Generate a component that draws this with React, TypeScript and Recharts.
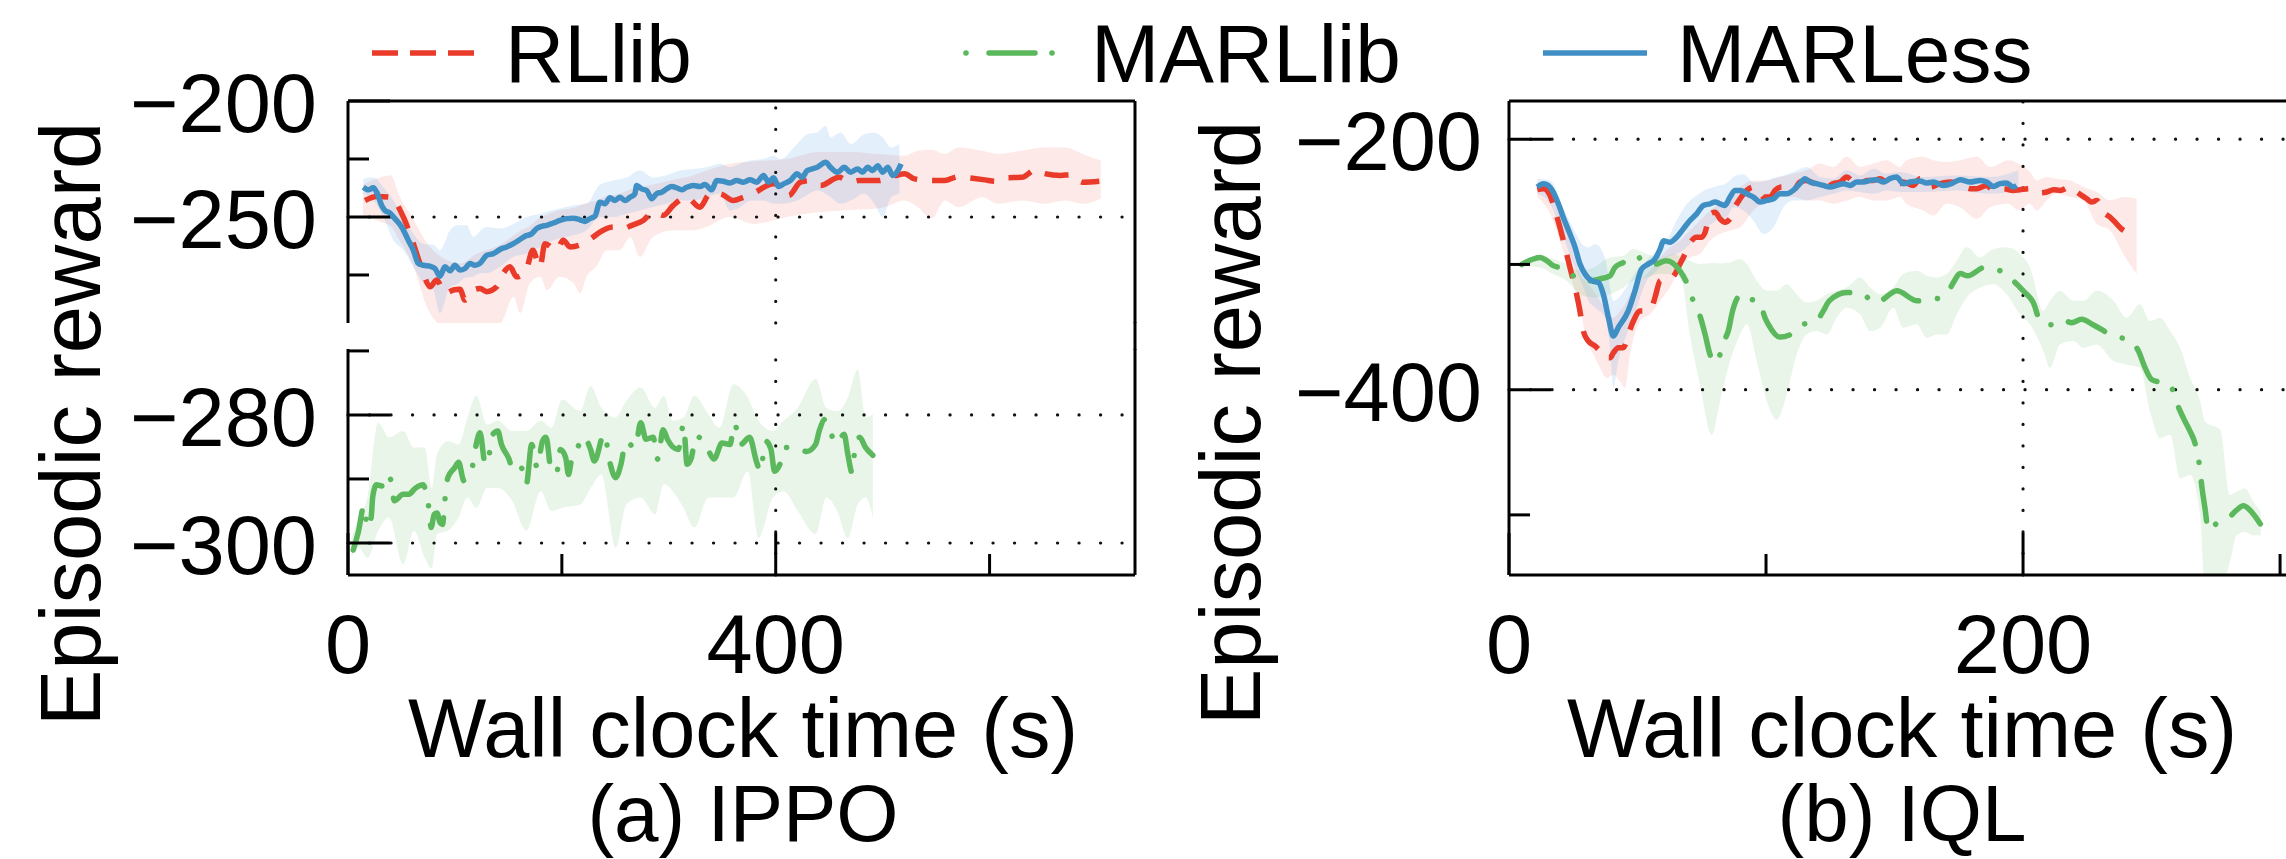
import React from "react";
import { ComposedChart, Line, Area, XAxis, YAxis, ReferenceLine } from "recharts";

const FONT = '"Liberation Sans", Arial, Helvetica, sans-serif';
const RED = "#EA3A2A";
const GREEN = "#5CB85C";
const BLUE = "#3F8FC5";
const BAND_RED = "#F04A3A";
const BAND_GREEN = "#5CB85C";
const BAND_BLUE = "#5AA9F0";

// ---------- (a) IPPO : [time, mean] and [time, low, high] ----------
const ippoRllib: number[][] = [
  [15.9, -242.9], [26.8, -241.2], [40.8, -241.5], [45.5, -244.3], [51.7, -250.0], [58.0, -257.2],
  [64.2, -265.8], [70.4, -274.3], [76.7, -280.1], [82.9, -277.2], [90.7, -282.9], [98.5, -281.5],
  [104.7, -281.2], [109.4, -285.8], [117.2, -281.5], [123.4, -280.8], [129.7, -282.2], [139.0, -280.1],
  [145.2, -274.3], [151.5, -271.5], [157.7, -275.8], [166.6, -272.9], [172.8, -264.3], [179.5, -271.5],
  [184.2, -261.5], [195.1, -264.3], [201.3, -260.0], [207.6, -262.9], [220.0, -261.5], [229.4, -258.6],
  [235.6, -256.5], [248.1, -254.3], [257.4, -255.0], [265.3, -253.6], [276.1, -251.5], [285.5, -247.9],
  [294.8, -249.3], [304.2, -245.0], [316.7, -241.5], [329.1, -245.8], [338.5, -240.0], [347.8, -240.0],
  [360.3, -242.9], [369.6, -241.5], [379.0, -239.8], [398.0, -235.7], [407.4, -237.9], [412.2, -240.7],
  [423.1, -235.0], [432.5, -234.3], [442.0, -236.4], [459.2, -232.9], [470.2, -235.0], [478.1, -234.3],
  [496.9, -234.3], [504.7, -232.9], [512.6, -232.1], [520.4, -231.4], [529.9, -233.6], [542.4, -234.3],
  [558.1, -234.3], [570.6, -232.6], [580.1, -233.1], [595.8, -234.0], [605.2, -234.6], [614.7, -233.1],
  [630.3, -232.9], [642.9, -229.7], [650.8, -231.2], [666.5, -232.1], [675.8, -231.7], [686.9, -235.0],
  [702.6, -234.6],
];
const ippoRllibBand: number[][] = [
  [14, -249, -236], [30, -252, -233], [40, -254, -232], [48, -260, -241], [60, -270, -250], [75, -290, -262],
  [90, -297, -268], [105, -297, -270], [120, -297, -266], [142, -296, -262], [155, -284.4, -258],
  [161, -291.5, -256], [170, -278.6, -254], [180, -275.8, -250], [186, -281.5, -249], [198, -275.8, -247],
  [211, -278.6, -246], [217, -282.9, -245], [223, -275.8, -244], [232, -271.5, -243], [242, -264.3, -241],
  [254, -264.3, -240], [264, -258.6, -238], [273, -267.2, -237], [285, -258.6, -236], [304, -255.7, -234],
  [323, -255.7, -232], [335, -254.3, -230], [357, -250, -227], [380, -253, -226], [410, -250, -225],
  [440, -248, -222], [470, -247, -222], [500, -246, -223], [520, -242.9, -223.6], [533, -245.8, -221.4],
  [546, -250.7, -221], [558, -242.9, -222.8], [571, -245.8, -220], [593, -241.5, -221.4],
  [608, -244.3, -222.8], [630, -242.9, -221.4], [652, -244.3, -220.0], [671, -242.9, -220.0],
  [687, -244.3, -222.8], [704, -242.1, -225.7],
];
const ippoMarless: number[][] = [
  [14.3, -237.2], [19.0, -238.3], [23.7, -237.4], [26.8, -239.3], [31.5, -245.0], [34.6, -247.2],
  [39.3, -248.3], [43.9, -250.7], [50.2, -254.3], [56.4, -260.0], [61.1, -264.3], [65.7, -270.0],
  [70.4, -270.8], [76.7, -271.2], [81.3, -272.2], [86.0, -275.5], [90.7, -271.5], [95.4, -273.2],
  [100.0, -270.8], [104.7, -272.9], [109.4, -272.2], [114.1, -270.0], [118.7, -270.8], [123.4, -270.0],
  [129.7, -266.5], [135.9, -265.8], [142.1, -264.0], [148.4, -262.9], [154.6, -261.5], [160.8, -259.7],
  [165.5, -258.3], [171.8, -257.2], [176.4, -255.0], [181.1, -254.0], [185.8, -253.6], [192.0, -252.6],
  [198.2, -251.5], [204.5, -250.7], [210.7, -250.5], [216.9, -251.2], [221.6, -251.9], [226.3, -250.7],
  [230.9, -249.7], [235.6, -243.6], [240.3, -244.3], [245.0, -241.7], [249.6, -242.9], [254.3, -241.5],
  [259.0, -242.9], [263.7, -241.5], [268.3, -240.0], [269.9, -236.4], [274.6, -237.9], [279.3, -238.6],
  [284.0, -242.1], [288.6, -240.0], [293.3, -239.3], [298.0, -237.9], [302.7, -236.9], [307.3, -237.4],
  [312.0, -238.3], [316.7, -237.2], [322.9, -236.4], [329.1, -236.9], [333.8, -236.0], [340.1, -238.3],
  [344.8, -234.3], [350.9, -234.6], [357.2, -235.3], [363.4, -234.3], [369.7, -235.0], [376.0, -234.0],
  [382.3, -235.0], [388.6, -232.1], [393.3, -235.0], [398.0, -233.1], [402.7, -236.9], [407.4, -235.7],
  [413.7, -234.3], [420.0, -231.4], [424.7, -232.9], [429.4, -230.0], [434.1, -229.3], [438.8, -228.6],
  [446.7, -226.4], [451.3, -228.6], [457.7, -230.7], [464.0, -228.6], [470.2, -230.7], [476.5, -229.3],
  [481.2, -230.7], [485.9, -228.6], [490.6, -230.0], [495.4, -227.9], [500.1, -230.7], [504.7, -228.6],
  [509.5, -232.1], [514.2, -230.0], [517.3, -227.1],
];
const ippoMarlessBand: number[][] = [
  [14.3, -240.0, -233.6], [23.7, -242.9, -232.9], [33.0, -250, -237.2], [42.4, -260, -242.9],
  [51.7, -264.3, -250], [61.1, -271.5, -257.2], [70.4, -278.6, -261.5], [79.8, -281.5, -262],
  [86.0, -291.5, -264.3], [95.4, -280.1, -255.7], [101.6, -279, -253.6], [111.0, -276, -253.6],
  [117.2, -275.8, -258.6], [123.4, -274.3, -256], [129.7, -274.3, -254.3], [142.1, -271.5, -255],
  [154.6, -267.2, -253], [167.1, -265.8, -250], [179.5, -262.9, -248.6], [192.0, -260.0, -247],
  [210.7, -257.9, -245.0], [223.2, -255.7, -244.3], [235.6, -250, -236], [248.1, -250, -234.3],
  [260.6, -248.6, -233], [273.0, -247.2, -230.0], [285.5, -245.7, -233], [298.0, -244.3, -232],
  [310.4, -242.9, -230], [322.9, -242.9, -229.3], [335.4, -241.4, -228.6], [347.8, -240.0, -227.1],
  [357.2, -247.2, -228.6], [366.6, -245.8, -227.1], [376.0, -243, -225.7], [388.6, -242.9, -225.0],
  [398.0, -244.3, -223.6], [404.3, -244.3, -225.0], [420.0, -242.9, -218.5], [429.4, -240.5, -214.3],
  [438.8, -238.6, -213.6], [446.7, -240, -210.7], [451.3, -241.5, -215.7], [460.8, -244.3, -213.6],
  [470.2, -242.9, -218.5], [482.7, -240.0, -214.3], [492.2, -244.3, -213.6], [500.1, -250.0, -215.7],
  [507.9, -241.5, -220], [515.7, -240.0, -218.5],
];
const ippoMarllib: number[][] = [
  [4.9, -301.1], [9.9, -298.1], [14.9, -294.2], [18.2, -297.6], [21.6, -296.1], [23.2, -292.7],
  [26.6, -290.9], [31.6, -291.1], [36.6, -289.3], [39.9, -290.1], [43.3, -293.4], [51.6, -292.4],
  [56.6, -292.4], [63.3, -291.4], [70.0, -290.9], [74.0, -292.9], [76.0, -295.0], [77.7, -297.6],
  [80.7, -295.5], [83.3, -295.3], [86.0, -296.8], [88.4, -297.1], [90.7, -293.2], [93.4, -289.8],
  [100.0, -288.2], [103.4, -287.4], [108.4, -290.3], [113.4, -288.8], [116.1, -288.2], [119.4, -285.0],
  [123.4, -282.8], [128.4, -287.7], [131.8, -286.4], [135.1, -283.1], [140.1, -282.5], [143.5, -284.6],
  [150.1, -286.7], [155.1, -288.8], [161.8, -288.2], [166.8, -290.8], [171.8, -284.6], [176.9, -288.2],
  [181.9, -284.1], [185.2, -283.5], [190.2, -288.8], [195.2, -289.0], [198.6, -285.4], [203.6, -286.7],
  [206.2, -289.3], [208.6, -287.4], [213.6, -285.6], [220.3, -283.4], [226.9, -285.4], [230.3, -287.2],
  [239.6, -283.0], [245.3, -287.7], [250.3, -289.8], [255.3, -287.7], [259.7, -284.2], [268.7, -285.1],
  [273.7, -281.2], [278.7, -283.8], [285.4, -283.5], [289.7, -286.9], [294.7, -282.3], [298.7, -283.8],
  [308.8, -285.4], [313.8, -281.5], [317.1, -287.7], [321.1, -286.7], [325.5, -283.3], [330.5, -283.8],
  [337.1, -285.6], [342.2, -286.9], [349.8, -284.4], [357.2, -284.6], [361.5, -281.4], [367.2, -284.6],
  [375.5, -283.5], [382.2, -287.4], [385.6, -288.8], [390.6, -284.1], [395.6, -285.4], [398.9, -288.8],
  [403.9, -287.7], [408.9, -285.1], [417.3, -285.1], [429.0, -285.7], [437.3, -284.6], [440.7, -282.5],
  [445.7, -280.7], [450.7, -282.5], [456.7, -284.5], [464.0, -283.0], [467.4, -286.1], [471.4, -289.0],
  [474.1, -285.3], [478.4, -283.5], [484.1, -285.1], [490.8, -286.3],
];
const ippoMarllibBand: number[][] = [
  [3.2, -302.3, -299.2], [9.9, -300.7, -296.0], [18.2, -302.3, -292.9], [28.2, -298.1, -281.2],
  [38.3, -296.0, -283.5], [51.6, -303.3, -282.5], [61.6, -298.1, -285.1], [71.7, -302.3, -285.1],
  [78.3, -304.0, -291.4], [83.3, -298.6, -286.1], [93.4, -298.1, -284.1], [103.4, -296.0, -284.6],
  [111.7, -292.9, -280.4], [120.1, -294.5, -277.0], [130.1, -291.4, -281.5], [140.1, -291.4, -280.9],
  [153.5, -293.4, -282.5], [166.8, -298.1, -282.5], [180.2, -291.9, -280.9], [190.2, -295.0, -282.0],
  [200.2, -294.5, -277.6], [216.9, -294.0, -279.4], [226.9, -291.4, -275.5], [237.0, -289.3, -278.9],
  [250.3, -300.7, -280.4], [260.3, -294.0, -277.8], [273.7, -292.9, -275.7], [287.1, -295.5, -278.9],
  [295.4, -290.8, -277.0], [303.7, -291.9, -280.9], [313.8, -294.5, -280.4], [323.8, -297.6, -277.0],
  [337.1, -292.9, -279.9], [347.2, -292.9, -282.0], [360.5, -292.9, -275.2], [373.9, -288.8, -277.3],
  [383.9, -299.2, -280.9], [397.3, -292.9, -282.5], [407.3, -291.9, -280.9], [420.6, -295.0, -278.9],
  [437.3, -298.6, -274.4], [447.3, -292.9, -278.9], [457.4, -295.0, -279.4], [467.4, -299.2, -277.3],
  [476.7, -294.0, -272.9], [484.1, -292.9, -280.4], [490.8, -296.0, -279.9],
];

// ---------- (b) IQL ----------
const iqlRllib: number[][] = [
  [11.0, -240.3], [13.4, -239.5], [16.0, -244.9], [17.9, -256.9], [19.8, -270.3], [21.8, -286.3],
  [23.7, -302.4], [25.7, -318.4], [27.6, -337.1], [28.9, -353.2], [30.9, -361.2], [33.5, -365.2],
  [35.4, -369.2], [37.4, -374.6], [39.3, -374.6], [40.6, -370.6], [42.5, -366.5], [44.5, -366.5],
  [46.4, -355.9], [48.4, -345.2], [51.0, -337.1], [53.6, -337.1], [55.5, -334.5], [56.8, -326.4],
  [58.8, -313.1], [60.7, -311.7], [62.6, -311.7], [64.6, -307.7], [66.5, -299.7], [68.5, -291.7],
  [71.1, -281.0], [73.0, -278.3], [75.0, -278.3], [76.3, -274.3], [78.2, -259.6], [80.2, -258.3],
  [82.1, -263.6], [84.0, -266.3], [86.0, -263.6], [87.9, -254.2], [89.9, -247.6], [92.5, -240.9],
  [95.1, -238.2], [97.0, -240.9], [99.0, -246.2], [101.6, -246.2], [103.5, -240.9], [106.1, -238.2],
  [108.7, -239.5], [110.6, -240.9], [113.2, -234.2], [115.8, -232.9], [118.4, -235.0], [121.0, -236.9],
  [123.6, -237.7], [126.2, -235.5], [128.8, -234.2], [131.4, -230.2], [134.0, -234.2], [136.6, -235.5],
  [139.2, -232.9], [141.8, -232.9], [144.4, -231.5], [147.0, -234.2], [149.5, -232.9], [152.1, -235.5],
  [153.4, -234.2], [157.3, -236.9], [159.9, -231.5], [163.8, -238.2], [167.7, -235.5], [171.6, -234.2],
  [175.5, -235.5], [179.4, -239.5], [182.0, -239.5], [185.9, -236.9], [188.5, -241.4], [192.3, -239.5],
  [196.2, -240.9], [198.8, -240.3], [202.7, -239.5], [206.0, -243.0], [209.2, -242.2], [211.8, -240.3],
  [214.4, -240.9], [218.3, -238.2], [220.9, -242.2], [224.8, -247.6], [226.7, -250.2], [228.7, -248.9],
  [231.3, -258.3], [233.9, -262.3], [236.4, -267.6], [238.8, -272.4], [244.2, -276.2],
];
const iqlRllibBand: number[][] = [
  [11.0, -246.2, -235.5], [16.0, -259.6, -240.9], [19.8, -281.0, -256.9], [23.7, -307.7, -281.0],
  [27.6, -334.5, -307.7], [30.3, -361.2, -314.4], [32.9, -371.9, -321.1], [35.4, -382.6, -329.1],
  [38.0, -390.6, -337.1], [40.6, -388.0, -342.5], [43.2, -393.3, -337.1], [45.1, -398.6, -331.8],
  [47.1, -371.9, -323.8], [51.0, -345.2, -313.1], [54.9, -339.8, -305.1], [58.8, -329.1, -294.4],
  [62.6, -318.4, -286.3], [66.5, -302.4, -281.0], [70.4, -294.4, -273.0], [74.3, -291.7, -264.9],
  [78.2, -281.0, -256.9], [82.1, -275.6, -251.6], [86.0, -273.0, -246.2], [89.9, -270.3, -238.2],
  [95.1, -256.9, -232.9], [100.3, -248.9, -232.9], [105.4, -246.2, -230.2], [110.6, -246.2, -227.5],
  [115.8, -248.9, -224.8], [121.0, -248.9, -219.5], [126.2, -251.6, -222.2], [131.4, -248.9, -214.1],
  [136.6, -246.2, -222.2], [141.8, -248.9, -219.5], [147.0, -248.9, -216.8], [152.1, -246.2, -222.2],
  [154.7, -251.6, -216.8], [161.2, -256.9, -214.1], [165.1, -260.9, -216.8], [170.3, -251.6, -218.2],
  [175.5, -254.3, -216.8], [182.0, -263.6, -214.1], [187.2, -254.3, -222.2], [194.4, -251.6, -216.8],
  [198.2, -256.9, -219.5], [202.7, -251.6, -226.2], [205.3, -256.9, -232.9], [209.2, -248.9, -230.2],
  [213.1, -243.6, -231.5], [218.3, -246.2, -232.9], [223.5, -248.9, -238.2], [228.7, -267.6, -242.2],
  [233.9, -273.0, -248.9], [239.0, -291.7, -246.2], [244.2, -307.7, -247.6],
];
const iqlMarless: number[][] = [
  [11.0, -238.2], [13.4, -235.5], [15.3, -236.9], [17.2, -242.2], [19.2, -251.6], [21.1, -262.3],
  [23.7, -275.6], [25.7, -286.3], [27.6, -299.7], [29.6, -307.7], [32.2, -313.1], [34.8, -314.4],
  [36.7, -323.8], [38.7, -342.5], [40.6, -357.2], [42.5, -350.5], [46.4, -337.1], [49.0, -321.1],
  [51.6, -303.7], [54.2, -299.7], [56.8, -295.7], [58.8, -287.7], [60.1, -281.0], [62.6, -282.3],
  [65.2, -278.3], [67.8, -271.6], [70.4, -264.9], [73.0, -259.6], [75.6, -252.9], [78.2, -251.6],
  [80.2, -250.2], [82.1, -251.6], [84.0, -252.9], [86.0, -246.2], [87.9, -240.9], [89.9, -240.9],
  [92.5, -243.6], [95.1, -246.2], [97.7, -250.2], [100.3, -248.9], [102.9, -247.6], [105.4, -243.6],
  [108.0, -243.6], [110.6, -240.9], [113.2, -235.5], [115.2, -231.5], [117.1, -234.2], [119.7, -235.5],
  [122.3, -236.9], [124.9, -238.2], [127.5, -236.9], [130.1, -235.5], [132.7, -236.9], [135.3, -234.2],
  [137.9, -234.2], [140.5, -232.9], [143.1, -232.3], [145.7, -234.2], [148.2, -231.5], [150.8, -230.2],
  [153.4, -235.5], [156.0, -234.2], [159.9, -233.4], [162.5, -235.0], [165.1, -234.2], [169.0, -236.9],
  [172.2, -235.5], [175.5, -232.3], [179.4, -234.2], [183.3, -232.9], [185.9, -234.2], [188.5, -237.7],
  [191.1, -235.5], [193.6, -235.0], [196.2, -238.2], [197.5, -236.9],
];
const iqlMarlessBand: number[][] = [
  [11.0, -243.6, -231.5], [16.0, -251.6, -232.9], [21.1, -278.3, -255], [25.7, -302.4, -274],
  [29.0, -318.4, -285], [30.9, -329.1, -286.3], [33.5, -334.5, -283.7], [37.4, -342.5, -295],
  [39.3, -366.6, -318], [40.6, -398.6, -329.1], [42.5, -377.2, -327], [45.8, -355.9, -318],
  [49.7, -334.5, -305], [53.6, -313.1, -297], [57.5, -305.1, -289.0], [61.4, -294.4, -281],
  [65.2, -291.7, -265], [69.1, -286.3, -252], [73.0, -278.3, -245], [76.9, -270.3, -240],
  [80.8, -264.9, -237.5], [84.7, -262.3, -235], [87.3, -254.3, -230.2], [91.2, -256.9, -228],
  [95.1, -264.9, -234.2], [99.0, -275.6, -233.5], [102.9, -270.3, -231], [106.8, -254.3, -228.9],
  [110.6, -248.9, -226.2], [115.8, -248.9, -222.2], [121.0, -246.2, -230.2], [126.2, -243.6, -231.5],
  [131.4, -240.9, -224.8], [136.6, -242.2, -228.9], [141.8, -243.6, -223.5], [147.0, -240.9, -227.5],
  [152.1, -242.2, -226.2], [161.2, -242.2, -230.2], [174.2, -240.9, -228.9], [187.2, -243.6, -230.2],
  [198.2, -240.9, -224.8],
];
const iqlMarllib: number[][] = [
  [4.9, -300.2], [12.1, -294.4], [14.7, -297.0], [17.2, -301.0], [19.8, -302.4], [22.4, -303.7],
  [24.4, -307.7], [27.0, -313.1], [30.9, -313.1], [35.0, -311.7], [39.3, -309.1], [41.2, -302.4],
  [44.5, -298.4], [47.7, -294.4], [49.7, -293.0], [52.3, -298.4], [56.8, -299.7], [61.3, -297.0],
  [66.5, -305.1], [69.1, -314.4], [71.7, -329.1], [74.1, -339.8], [76.3, -355.9], [78.2, -371.9],
  [80.2, -378.6], [82.1, -371.9], [83.7, -361.2], [85.3, -353.2], [87.0, -337.1], [90.5, -323.8],
  [93.1, -327.8], [96.4, -328.6], [98.3, -334.5], [99.6, -342.5], [100.9, -347.8], [105.4, -358.0],
  [112.6, -351.8], [114.5, -347.8], [117.8, -346.5], [119.7, -345.2], [122.3, -337.1], [124.6, -329.1],
  [131.4, -322.4], [137.9, -323.8], [141.8, -330.5], [145.7, -327.8], [148.2, -323.8], [150.8, -321.1],
  [158.9, -329.1], [167.1, -327.0], [170.3, -323.8], [172.9, -314.4], [175.5, -307.2], [178.5, -309.1],
  [185.0, -302.4], [191.7, -305.6], [196.2, -313.1], [200.1, -321.1], [204.0, -330.5], [206.9, -346.0],
  [212.5, -348.4], [215.7, -344.6], [218.9, -346.5], [222.8, -343.8], [227.4, -348.4], [234.8, -356.7],
  [242.3, -361.7], [244.9, -369.2], [247.5, -382.6], [250.1, -392.0], [257.2, -396.0], [259.8, -410.7],
  [262.4, -422.7], [265.0, -433.4], [266.9, -442.8], [268.6, -460.1], [269.5, -476.2], [270.8, -494.9],
  [272.1, -512.3], [275.7, -506.1], [279.9, -502.4], [283.1, -496.2], [285.7, -492.8], [288.3, -496.2],
  [290.9, -502.9], [292.5, -507.7],
];
const iqlMarllibBand: number[][] = [
  [4.3, -301.1, -298.4], [12.1, -302.4, -294.4], [17.2, -307.7, -295.7], [22.4, -313.1, -299.7],
  [27.6, -323.8, -305.1], [32.9, -326.4, -302.4], [39.3, -323.8, -294.4], [44.5, -318.4, -293.0],
  [48.4, -313.1, -287.7], [53.6, -310.4, -291.7], [58.8, -307.7, -294.4], [63.9, -307.7, -291.7],
  [67.2, -313.1, -294.4], [70.4, -355.9, -297.0], [74.3, -396.0, -299.7], [78.9, -436.1, -298.9],
  [82.1, -409.3, -299.2], [86.0, -377.2, -298.4], [89.9, -355.9, -295.7], [92.5, -347.8, -299.7],
  [96.4, -377.2, -313.1], [100.3, -409.3, -321.1], [104.2, -424.0, -321.1], [108.0, -404.0, -315.8],
  [111.9, -371.9, -323.8], [115.8, -355.9, -330.5], [119.7, -353.2, -329.1], [123.6, -355.9, -323.8],
  [127.5, -342.5, -321.1], [131.4, -334.5, -318.4], [136.6, -339.8, -310.4], [140.5, -353.2, -318.4],
  [144.4, -350.5, -323.8], [149.5, -334.5, -318.4], [153.4, -350.5, -307.7], [158.6, -347.8, -305.1],
  [162.5, -358.5, -309.1], [166.4, -355.9, -310.4], [170.3, -355.9, -307.7], [174.2, -339.8, -297.0],
  [178.1, -326.4, -286.3], [183.3, -318.4, -294.4], [188.5, -315.8, -287.7], [193.6, -323.8, -286.3],
  [198.8, -339.8, -291.7], [202.7, -347.8, -302.4], [207.9, -369.2, -337.1], [210.5, -382.6, -329.1],
  [214.4, -363.9, -321.1], [219.6, -361.2, -329.1], [223.5, -366.6, -329.1], [228.7, -363.9, -321.1],
  [235.2, -377.2, -329.1], [240.3, -379.9, -342.5], [245.5, -382.6, -331.8], [249.4, -417.4, -345.2],
  [253.3, -438.7, -342.5], [257.2, -436.1, -353.2], [261.1, -470.8, -366.6], [265.0, -468.1, -390.6],
  [268.9, -500.2, -409.3], [270.8, -560, -425.4], [276.7, -560, -432.1], [280.5, -537.7, -484.2],
  [283.1, -516.3, -481.5], [286.4, -513.6, -478.9], [289.6, -516.3, -489.6], [292.5, -516.3, -497.6],
];

// axis ticks
const ippoXTicks = [0, 200, 400, 600];
const ippoXLabels = [0, 400];
const ippoUpperTicks = [-275, -250, -225, -200];
const ippoUpperLabels = [-250, -200];
const ippoLowerTicks = [-300, -290, -280, -270];
const ippoLowerLabels = [-300, -280];
const iqlXTicks = [0, 100, 200, 300];
const iqlXLabels = [0, 200];
const iqlYTicks = [-500, -400, -300, -200];
const iqlYLabels = [-400, -200];

const toLine = (rows: number[][]) => rows.map(([x, y]) => ({ x, y }));
const toBand = (rows: number[][]) => rows.map(([x, lo, hi]) => ({ x, band: [lo, hi] }));

const fmt = (v: number) => (v < 0 ? `\u2212${Math.abs(v)}` : `${v}`);

const YTick = (props: any) => {
  const { x, y, payload, labels, gap } = props;
  const major = labels.includes(payload.value);
  return (
    <g>
      <line x1={x} x2={x + (major ? 42 : 21)} y1={y} y2={y} stroke="#000" strokeWidth={3} />
      {major && (
        <text x={x - gap} y={y + 31} textAnchor="end" fontSize={83} fontFamily={FONT} fill="#000">
          {fmt(payload.value)}
        </text>
      )}
    </g>
  );
};

const XTick = (props: any) => {
  const { x, y, payload, labels } = props;
  const major = labels.includes(payload.value);
  return (
    <g>
      <line x1={x} x2={x} y1={y} y2={y - (major ? 42 : 21)} stroke="#000" strokeWidth={3} />
      {major && (
        <text x={x} y={y + 98} textAnchor="middle" fontSize={83} fontFamily={FONT} fill="#000">
          {fmt(payload.value)}
        </text>
      )}
    </g>
  );
};

const axisLine = { stroke: "#000", strokeWidth: 3 };
const dotted = { stroke: "#111", strokeWidth: 3.2, strokeDasharray: "0.1 21.4", strokeLinecap: "round" as const };
const frame = { stroke: "#000", strokeWidth: 3 };

const band = (rows: number[][], color: string, op: number) => (
  <Area data={toBand(rows)} dataKey="band" type="monotone" stroke="none" fill={color} fillOpacity={op}
    isAnimationActive={false} activeDot={false} />
);
const redLine = (rows: number[][]) => (
  <Line data={toLine(rows)} dataKey="y" type="monotone" stroke={RED} strokeWidth={5.5}
    strokeDasharray="24 15" dot={false} activeDot={false} isAnimationActive={false} />
);
const greenLine = (rows: number[][]) => (
  <Line data={toLine(rows)} dataKey="y" type="monotone" stroke={GREEN} strokeWidth={5.5}
    strokeDasharray="40 19 0.1 19" strokeLinecap="round" dot={false} activeDot={false} isAnimationActive={false} />
);
const blueLine = (rows: number[][]) => (
  <Line data={toLine(rows)} dataKey="y" type="monotone" stroke={BLUE} strokeWidth={5.5}
    dot={false} activeDot={false} isAnimationActive={false} />
);

const abs = (left: number): React.CSSProperties => ({ position: "absolute", left, top: 0 });

export default function App() {
  return (
    <div style={{ position: "absolute", left: 0, top: 0, width: 2286, height: 859, overflow: "hidden", background: "#fff" }}>
      {/* (a) upper panel: RLlib + MARLess */}
      <div style={abs(0)}>
        <ComposedChart width={1160} height={400} margin={{ top: 101, right: 25, bottom: 77, left: 0 }}>
          <XAxis type="number" dataKey="x" domain={[0, 736]} allowDataOverflow hide />
          <YAxis type="number" domain={[-295.7, -200]} allowDataOverflow width={348} ticks={ippoUpperTicks}
            interval={0} tickSize={0} tickMargin={0} tickLine={false} axisLine={axisLine}
            tick={<YTick labels={ippoUpperLabels} gap={31} />} />
          <ReferenceLine y={-250} {...dotted} />
          <ReferenceLine x={400} {...dotted} />
          {band(ippoRllibBand, BAND_RED, 0.12)}
          {band(ippoMarlessBand, BAND_BLUE, 0.17)}
          {redLine(ippoRllib)}
          {blueLine(ippoMarless)}
          <ReferenceLine y={-200} {...frame} />
          <ReferenceLine x={736} {...frame} />
        </ComposedChart>
      </div>
      {/* (a) lower panel: MARLlib */}
      <div style={abs(0)}>
        <ComposedChart width={1160} height={859} margin={{ top: 349, right: 25, bottom: 0, left: 0 }}>
          <XAxis type="number" dataKey="x" domain={[0, 736]} allowDataOverflow height={284} ticks={ippoXTicks}
            interval={0} tickSize={0} tickMargin={0} tickLine={false} axisLine={axisLine}
            tick={<XTick labels={ippoXLabels} />} />
          <YAxis type="number" domain={[-305, -269.7]} allowDataOverflow width={348} ticks={ippoLowerTicks}
            interval={0} tickSize={0} tickMargin={0} tickLine={false} axisLine={axisLine}
            tick={<YTick labels={ippoLowerLabels} gap={31} />} />
          <ReferenceLine y={-280} {...dotted} />
          <ReferenceLine y={-300} {...dotted} />
          <ReferenceLine x={400} {...dotted} />
          {band(ippoMarllibBand, BAND_GREEN, 0.14)}
          {greenLine(ippoMarllib)}
          <ReferenceLine x={736} {...frame} />
        </ComposedChart>
      </div>
      {/* (b) IQL */}
      <div style={abs(1150)}>
        <ComposedChart width={1160} height={859} margin={{ top: 101, right: 14, bottom: 0, left: 0 }}>
          <XAxis type="number" dataKey="x" domain={[0, 306.2]} allowDataOverflow height={284} ticks={iqlXTicks}
            interval={0} tickSize={0} tickMargin={0} tickLine={false} axisLine={axisLine}
            tick={<XTick labels={iqlXLabels} />} />
          <YAxis type="number" domain={[-548, -169.5]} allowDataOverflow width={359} ticks={iqlYTicks}
            interval={0} tickSize={0} tickMargin={0} tickLine={false} axisLine={axisLine}
            tick={<YTick labels={iqlYLabels} gap={27} />} />
          <ReferenceLine y={-200} {...dotted} />
          <ReferenceLine y={-400} {...dotted} />
          <ReferenceLine x={200} {...dotted} />
          {band(iqlRllibBand, BAND_RED, 0.12)}
          {band(iqlMarllibBand, BAND_GREEN, 0.14)}
          {band(iqlMarlessBand, BAND_BLUE, 0.17)}
          {redLine(iqlRllib)}
          {greenLine(iqlMarllib)}
          {blueLine(iqlMarless)}
          <ReferenceLine y={-169.5} {...frame} />
          <ReferenceLine x={306.2} {...frame} />
        </ComposedChart>
      </div>
      {/* legend, labels, captions */}
      <svg width={2286} height={859} style={{ position: "absolute", left: 0, top: 0, pointerEvents: "none" }}
        fontFamily={FONT} fill="#000">
        <line x1={1135} x2={1135} y1={322} y2={350} stroke="#000" strokeWidth={3} />
        <line x1={372} x2={474} y1={53} y2={53} stroke={RED} strokeWidth={5.5} strokeDasharray="26 12" />
        <text x={505} y={82} fontSize={82}>RLlib</text>
        <circle cx={966} cy={53} r={2.8} fill={GREEN} />
        <line x1={989} x2={1035} y1={53} y2={53} stroke={GREEN} strokeWidth={5.5} strokeLinecap="round" />
        <circle cx={1052} cy={53} r={2.8} fill={GREEN} />
        <text x={1091} y={82} fontSize={82}>MARLlib</text>
        <line x1={1543} x2={1647} y1={53} y2={53} stroke={BLUE} strokeWidth={5.5} />
        <text x={1677} y={82} fontSize={82}>MARLess</text>
        <text transform="translate(100,424) rotate(-90)" textAnchor="middle" fontSize={85}>Episodic reward</text>
        <text transform="translate(1260,423) rotate(-90)" textAnchor="middle" fontSize={85}>Episodic reward</text>
        <text x={743} y={757} textAnchor="middle" fontSize={83}>Wall clock time (s)</text>
        <text x={1902} y={757} textAnchor="middle" fontSize={83}>Wall clock time (s)</text>
        <text x={743} y={841} textAnchor="middle" fontSize={80}>(a) IPPO</text>
        <text x={1902} y={841} textAnchor="middle" fontSize={80}>(b) IQL</text>
      </svg>
    </div>
  );
}
